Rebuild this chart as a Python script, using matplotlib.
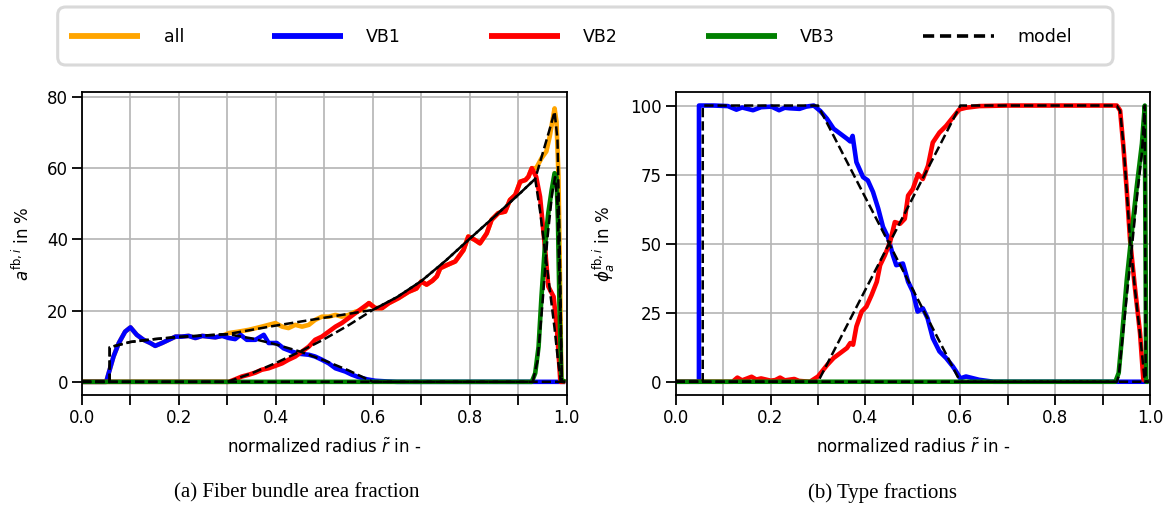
import numpy as np
import matplotlib
matplotlib.use("Agg")
import matplotlib.pyplot as plt
from matplotlib.lines import Line2D
from matplotlib.patches import FancyBboxPatch

# ---------------- (a) fiber bundle area fraction a^{fb,i} in % ----------------
a_r_all = [0.0, 0.05, 0.055, 0.065, 0.076, 0.089, 0.1, 0.113, 0.127, 0.141, 0.151, 0.165,
           0.179, 0.193, 0.206, 0.22, 0.234, 0.248, 0.261, 0.275, 0.289, 0.303, 0.323, 0.344,
           0.371, 0.385, 0.399, 0.413, 0.426, 0.44, 0.454, 0.468, 0.481, 0.495, 0.509, 0.523,
           0.536, 0.55, 0.564, 0.578, 0.592, 0.605, 0.619, 0.633, 0.653, 0.674, 0.69, 0.7,
           0.711, 0.723, 0.732, 0.739, 0.753, 0.77, 0.787, 0.797, 0.81, 0.821, 0.835, 0.845,
           0.859, 0.873, 0.883, 0.894, 0.904, 0.915, 0.921, 0.928, 0.937, 0.948, 0.958, 0.965,
           0.975, 0.979, 0.983, 0.986, 0.989, 0.997]
a_all = [0, 0, 2.4, 7.1, 10.9, 14.1, 15.3, 13.2, 11.8, 10.9, 10.1, 10.9,
         11.8, 12.7, 12.7, 12.9, 12.3, 12.9, 12.7, 12.5, 12.9, 13.7, 14.1, 14.6,
         15.5, 16.0, 16.5, 15.5, 15.1, 16.0, 15.5, 16.0, 17.4, 18.3, 18.3, 18.8,
         18.3, 18.8, 19.7, 20.2, 22.1, 20.7, 20.7, 22.1, 23.5, 25.3, 26.2, 28.2,
         27.3, 28.4, 29.6, 31.9, 32.8, 33.8, 37.0, 40.8, 39.9, 38.9, 41.7, 45.5,
         47.4, 47.8, 51.1, 52.5, 56.2, 56.7, 57.6, 60.0, 60.0, 62.8, 64.7, 68.9,
         76.8, 73.0, 58.0, 30.0, 0.5, 0]

a_r_vb1 = [0.0, 0.05, 0.055, 0.065, 0.076, 0.089, 0.1, 0.113, 0.127, 0.141, 0.151, 0.165,
           0.179, 0.193, 0.206, 0.22, 0.234, 0.248, 0.261, 0.275, 0.289, 0.303, 0.316, 0.327,
           0.34, 0.358, 0.375, 0.385, 0.402, 0.416, 0.433, 0.447, 0.468, 0.481, 0.495, 0.509,
           0.523, 0.543, 0.557, 0.571, 0.588, 0.605, 0.63, 0.65, 0.997]
a_vb1 = [0, 0, 2.4, 7.1, 10.9, 14.1, 15.3, 13.2, 11.8, 10.9, 10.1, 10.9,
         11.8, 12.7, 12.7, 12.9, 12.3, 12.9, 12.7, 12.5, 12.9, 12.3, 12.0, 13.2,
         11.8, 11.8, 13.2, 10.9, 10.9, 9.4, 8.5, 7.9, 7.6, 7.1, 6.2, 5.2,
         3.8, 2.9, 2.0, 1.3, 0.7, 0.3, 0.1, 0, 0]

a_r_vb2 = [0.0, 0.303, 0.316, 0.33, 0.344, 0.358, 0.371, 0.385, 0.399, 0.413, 0.426, 0.44,
           0.454, 0.468, 0.481, 0.495, 0.509, 0.523, 0.536, 0.55, 0.564, 0.578, 0.592, 0.605,
           0.619, 0.633, 0.653, 0.674, 0.69, 0.7, 0.711, 0.723, 0.732, 0.739, 0.753, 0.77,
           0.787, 0.797, 0.81, 0.821, 0.835, 0.845, 0.859, 0.873, 0.883, 0.894, 0.904, 0.915,
           0.921, 0.928, 0.937, 0.945, 0.955, 0.962, 0.973, 0.98, 0.987, 0.997]
a_vb2 = [0, 0, 0.7, 1.5, 2.0, 2.6, 3.4, 3.8, 4.5, 5.2, 6.2, 7.1,
         8.5, 9.9, 11.8, 12.7, 14.1, 15.5, 16.5, 17.9, 19.3, 20.7, 22.1, 20.7,
         20.7, 22.1, 23.5, 25.3, 26.2, 28.2, 27.3, 28.4, 29.6, 31.9, 32.8, 33.8,
         37.0, 40.8, 39.9, 38.9, 41.7, 45.5, 47.4, 47.8, 51.1, 52.5, 56.2, 56.7,
         57.6, 60.0, 57.6, 52.0, 38.0, 26.8, 23.9, 14.6, 0, 0]

a_r_vb3 = [0.0, 0.928, 0.935, 0.942, 0.948, 0.955, 0.962, 0.969, 0.975, 0.979, 0.982,
           0.985, 0.989, 0.997]
a_vb3 = [0, 0, 2.4, 9.9, 24.0, 38.0, 47.4, 53.9, 58.6, 57.5, 45.0, 22.0, 0.5, 0]

# model curves for (a)
a_r_model_all = [0.0, 0.057, 0.0571, 0.1, 0.15, 0.2, 0.25, 0.3, 0.35, 0.4, 0.45, 0.5,
                 0.55, 0.6, 0.65, 0.7, 0.75, 0.8, 0.85, 0.9, 0.935, 0.95, 0.965, 0.975,
                 0.981, 0.986, 0.99, 0.997]
a_model_all = [0, 0, 9.7, 11.2, 12.0, 12.6, 13.0, 13.4, 14.6, 15.8, 16.9, 18.0,
               19.1, 20.2, 23.8, 28.3, 34.0, 40.2, 46.3, 52.5, 57.0, 64.0, 71.0, 75.9,
               68.0, 35.0, 0, 0]
a_r_model_vb1 = [0.0, 0.057, 0.0571, 0.1, 0.15, 0.2, 0.25, 0.3, 0.35, 0.4, 0.45, 0.5,
                 0.55, 0.6, 0.997]
a_model_vb1 = [0, 0, 9.7, 11.2, 12.0, 12.6, 13.0, 13.4, 12.2, 10.5, 8.5, 6.0,
               3.2, 0, 0]
a_r_model_vb2 = [0.0, 0.3, 0.35, 0.4, 0.45, 0.5, 0.55, 0.6, 0.65, 0.7, 0.75, 0.8,
                 0.85, 0.9, 0.935, 0.945, 0.955, 0.965, 0.975, 0.982, 0.988, 0.997]
a_model_vb2 = [0, 0, 2.4, 5.3, 8.5, 12.0, 15.9, 20.2, 23.8, 28.3, 34.0, 40.2,
               46.3, 52.5, 57.0, 48.0, 37.0, 26.0, 15.0, 6.0, 0, 0]
a_r_model_vb3 = [0.0, 0.93, 0.94, 0.95, 0.96, 0.97, 0.976, 0.981, 0.986, 0.99, 0.997]
a_model_vb3 = [0, 0, 6.0, 22.0, 40.0, 53.0, 57.5, 50.0, 25.0, 0, 0]

# ---------------- (b) type fractions phi_a^{fb,i} in % ----------------
b_r_vb1 = [0.0, 0.049, 0.0491, 0.08, 0.11, 0.128, 0.14, 0.163, 0.18, 0.202, 0.218, 0.23,
           0.241, 0.261, 0.275, 0.291, 0.305, 0.319, 0.333, 0.347, 0.361, 0.368, 0.373,
           0.381, 0.395, 0.405, 0.416, 0.427, 0.437, 0.448, 0.458, 0.465, 0.479, 0.49,
           0.5, 0.51, 0.521, 0.531, 0.542, 0.556, 0.57, 0.584, 0.591, 0.6, 0.612, 0.64,
           0.67, 0.997]
b_vb1 = [0, 0, 100, 100, 99.8, 98.5, 99.3, 98.3, 99.4, 99.6, 98.3, 99.2,
         99.0, 98.8, 99.6, 100, 98.0, 95.2, 91.6, 89.8, 88.0, 87.0, 89.0,
         79.5, 74.1, 72.9, 68.7, 62.7, 56.1, 52.1, 45.8, 42.2, 42.8, 36.2,
         32.6, 25.4, 26.6, 23.0, 15.8, 11.0, 8.6, 5.6, 3.8, 1.2, 1.9, 0.7,
         0, 0]

b_r_vb2 = [0.0, 0.12, 0.13, 0.14, 0.16, 0.17, 0.18, 0.2, 0.21, 0.22, 0.23, 0.25,
           0.26, 0.283, 0.3, 0.319, 0.333, 0.347, 0.361, 0.368, 0.374, 0.381, 0.392,
           0.402, 0.413, 0.424, 0.431, 0.441, 0.452, 0.462, 0.473, 0.483, 0.49, 0.5,
           0.511, 0.521, 0.532, 0.542, 0.556, 0.57, 0.584, 0.598, 0.612, 0.64, 0.7,
           0.93, 0.937, 0.944, 0.951, 0.958, 0.968, 0.979, 0.986, 0.997]
b_vb2 = [0, 0, 1.5, 0.5, 1.8, 0.8, 1.2, 0.4, 0.6, 1.5, 0.5, 1.0,
         0.3, 0, 1.9, 6.0, 8.6, 10.4, 12.2, 14.0, 13.4, 20.0, 25.4,
         27.2, 31.4, 36.2, 42.2, 45.8, 50.6, 57.8, 57.2, 59.0, 67.4, 69.8,
         75.2, 73.4, 78.2, 86.6, 90.2, 92.6, 95.6, 98.6, 99.2, 99.8, 100,
         100, 98.2, 85.0, 69.3, 51.3, 34.4, 17.6, 0.7, 0]

b_r_vb3 = [0.0, 0.927, 0.934, 0.941, 0.951, 0.962, 0.972, 0.983, 0.989, 0.992, 0.997]
b_vb3 = [0, 0, 3.2, 16.4, 36.8, 54.9, 70.5, 86.2, 100, 0, 0]

# model curves for (b)
b_r_model_vb1 = [0.0, 0.057, 0.0571, 0.3, 0.6, 0.997]
b_model_vb1 = [0, 0, 100, 100, 0, 0]
b_r_model_vb2 = [0.0, 0.3, 0.6, 0.93, 0.937, 0.944, 0.951, 0.958, 0.968, 0.979, 0.989, 0.997]
b_model_vb2 = [0, 0, 100, 100, 98.0, 86.0, 69.0, 51.0, 34.0, 17.0, 0, 0]
b_r_model_vb3 = [0.0, 0.93, 0.934, 0.941, 0.951, 0.962, 0.972, 0.983, 0.989, 0.991, 0.997]
b_model_vb3 = [0, 0, 2.0, 14.0, 31.0, 49.0, 66.0, 83.0, 100, 0, 0]

legend_labels = ["all", "VB1", "VB2", "VB3", "model"]
x_tick_values = [0.0, 0.1, 0.2, 0.3, 0.4, 0.5, 0.6, 0.7, 0.8, 0.9, 1.0]
a_y_ticks = [0, 20, 40, 60, 80]
b_y_ticks = [0, 25, 50, 75, 100]

# ---------------- styling ----------------
plt.rcParams["font.family"] = ["DejaVu Sans"]
plt.rcParams["mathtext.fontset"] = "dejavusans"

COL_ALL, COL_VB1, COL_VB2, COL_VB3 = "orange", "blue", "red", "green"
LW = 3.3
LINE_KW = dict(lw=LW, solid_joinstyle="round", solid_capstyle="butt")
MODEL_KW = dict(color="black", linestyle="--", linewidth=1.8)

W, H = 1171, 507
fig = plt.figure(figsize=(W / 100, H / 100), dpi=100)
ax_a = fig.add_axes([82 / W, 112 / H, 484.7 / W, 303 / H])
ax_b = fig.add_axes([675.7 / W, 112 / H, 474.3 / W, 303 / H])


def style_axis(ax, yticks, ylim):
    ax.set_xlim(0, 1)
    ax.set_ylim(*ylim)
    ax.set_xticks(x_tick_values)
    ax.set_xticklabels([f"{v:.1f}" if i % 2 == 0 else "" for i, v in enumerate(x_tick_values)])
    ax.set_yticks(yticks)
    ax.grid(True, color="#b4b4b4", linewidth=1.2)
    ax.set_axisbelow(True)
    for sp in ax.spines.values():
        sp.set_color("black")
        sp.set_linewidth(1.3)
    ax.tick_params(direction="out", length=7, width=1.3, color="black",
                   labelsize=12, pad=3)
    ax.set_xlabel(r"normalized radius $\tilde{r}$ in -", fontsize=12, labelpad=8)


# panel (a)
ax_a.plot(a_r_all, a_all, color=COL_ALL, **LINE_KW)
ax_a.plot(a_r_vb1, a_vb1, color=COL_VB1, **LINE_KW)
ax_a.plot(a_r_vb2, a_vb2, color=COL_VB2, **LINE_KW)
ax_a.plot(a_r_vb3, a_vb3, color=COL_VB3, **LINE_KW)
ax_a.plot(a_r_model_all, a_model_all, **MODEL_KW)
ax_a.plot(a_r_model_vb1, a_model_vb1, **MODEL_KW)
ax_a.plot(a_r_model_vb2, a_model_vb2, **MODEL_KW)
ax_a.plot(a_r_model_vb3, a_model_vb3, **MODEL_KW)
style_axis(ax_a, a_y_ticks, (-3.7, 81.4))
ax_a.set_ylabel(r"$a^{\mathrm{fb},i}$ in %", fontsize=12)
ax_a.yaxis.set_label_coords(-0.101, 0.5)

# panel (b)
ax_b.plot(b_r_vb1, b_vb1, color=COL_VB1, **LINE_KW)
ax_b.plot(b_r_vb2, b_vb2, color=COL_VB2, **LINE_KW)
ax_b.plot(b_r_vb3, b_vb3, color=COL_VB3, **LINE_KW)
ax_b.plot(b_r_model_vb1, b_model_vb1, **MODEL_KW)
ax_b.plot(b_r_model_vb2, b_model_vb2, **MODEL_KW)
ax_b.plot(b_r_model_vb3, b_model_vb3, **MODEL_KW)
style_axis(ax_b, b_y_ticks, (-4.8, 104.9))
ax_b.set_ylabel(r"$\phi_a^{\mathrm{fb},i}$ in %", fontsize=12)
ax_b.yaxis.set_label_coords(-0.124, 0.5)

# shared legend across the top, with its own rounded frame
frame = FancyBboxPatch((57.7 / 100, (H - 65) / 100), (1113 - 57.7) / 100, 58 / 100,
                       boxstyle="round,pad=0,rounding_size=0.08",
                       transform=fig.dpi_scale_trans, facecolor="white",
                       edgecolor="#d9d9d9", linewidth=2.2, zorder=0)
fig.add_artist(frame)

handles = [Line2D([], [], color=COL_ALL, lw=4.2, solid_capstyle="butt"),
           Line2D([], [], color=COL_VB1, lw=4.2, solid_capstyle="butt"),
           Line2D([], [], color=COL_VB2, lw=4.2, solid_capstyle="butt"),
           Line2D([], [], color=COL_VB3, lw=4.2, solid_capstyle="butt"),
           Line2D([], [], color="black", linestyle="--", lw=2.6, dashes=(3.1, 1.6),
                  dash_capstyle="butt")]
leg = fig.legend(handles, legend_labels, loc="center",
                 bbox_to_anchor=(69 / W, (H - 52) / H, (1072 - 69) / W, 30 / H),
                 mode="expand", ncol=5, fontsize=12.5, frameon=False,
                 handlelength=4.1, handletextpad=1.35, borderpad=0,
                 borderaxespad=0)

# sub-figure captions
cap_kw = dict(ha="center", va="center", fontsize=15,
              family=["Liberation Serif", "DejaVu Serif"])
fig.text(297 / W, (H - 493) / H, "(a) Fiber bundle area fraction", **cap_kw)
fig.text(882 / W, (H - 493) / H, "(b) Type fractions", **cap_kw)

fig.savefig("out.png", dpi=100, facecolor="white")
